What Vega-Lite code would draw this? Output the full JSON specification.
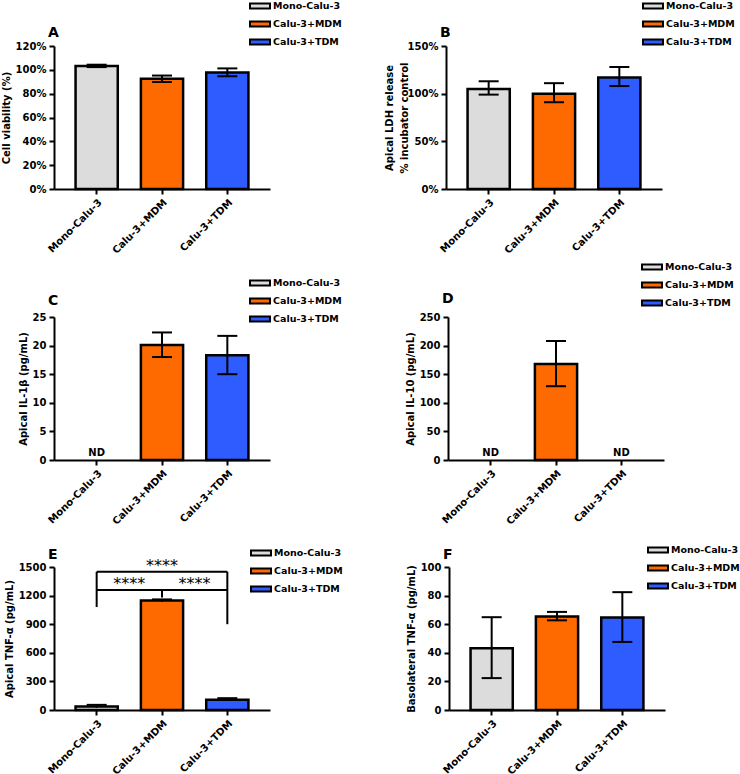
{
  "$schema": "https://vega.github.io/schema/vega-lite/v6.json",
  "padding": {"left": 1, "top": -5, "right": 0, "bottom": 0},
  "background": "white",
  "config": {
    "view": {"stroke": null},
    "font": "DejaVu Sans",
    "axis": {
      "domainColor": "black", "domainWidth": 2, "tickColor": "black", "tickWidth": 2, "tickSize": 5,
      "labelFont": "DejaVu Sans", "labelFontWeight": "bold", "labelFontSize": 10, "labelColor": "black",
      "titleFont": "DejaVu Sans", "titleFontWeight": "bold", "titleFontSize": 10, "titleColor": "black",
      "grid": false, "labelPadding": 3, "titlePadding": 4, "labelOverlap": false
    },
    "axisX": {"labelAngle": -45, "title": null},
    "legend": {
      "orient": "none", "title": null,
      "symbolType": "M-1,-0.25H1V0.25H-1Z", "symbolSize": 400,
      "symbolStrokeColor": "black", "symbolStrokeWidth": 2, "symbolOpacity": 1,
      "labelFont": "DejaVu Sans", "labelFontWeight": "bold", "labelFontSize": 9.5, "labelColor": "black",
      "labelOffset": 2, "rowPadding": -2
    },
    "title": {"anchor": "start", "frame": "group", "dx": -6, "fontSize": 14, "fontWeight": "bold", "font": "DejaVu Sans", "color": "black"},
    "tick": {"thickness": 2, "size": 20, "color": "black", "opacity": 1},
    "rule": {"strokeWidth": 2, "color": "black"}
  },
  "datasets": {
    "A": [
      {"g": "Mono-Calu-3", "m": 1.033, "lo": 1.023, "hi": 1.043},
      {"g": "Calu-3+MDM", "m": 0.925, "lo": 0.898, "hi": 0.952},
      {"g": "Calu-3+TDM", "m": 0.978, "lo": 0.946, "hi": 1.012}
    ],
    "B": [
      {"g": "Mono-Calu-3", "m": 1.05, "lo": 0.99, "hi": 1.13},
      {"g": "Calu-3+MDM", "m": 1.0, "lo": 0.91, "hi": 1.11},
      {"g": "Calu-3+TDM", "m": 1.17, "lo": 1.08, "hi": 1.28}
    ],
    "C": [
      {"g": "Calu-3+MDM", "m": 20.1, "lo": 18.0, "hi": 22.3},
      {"g": "Calu-3+TDM", "m": 18.3, "lo": 15.0, "hi": 21.7}
    ],
    "Cnd": [{"g": "Mono-Calu-3", "t": "ND"}],
    "D": [
      {"g": "Calu-3+MDM", "m": 168, "lo": 129, "hi": 208}
    ],
    "Dnd": [{"g": "Mono-Calu-3", "t": "ND"}, {"g": "Calu-3+TDM", "t": "ND"}],
    "E": [
      {"g": "Mono-Calu-3", "m": 38, "lo": 24, "hi": 54},
      {"g": "Calu-3+MDM", "m": 1148, "lo": 1136, "hi": 1160},
      {"g": "Calu-3+TDM", "m": 108, "lo": 94, "hi": 124}
    ],
    "Eh": [
      {"g": "Mono-Calu-3", "g2": "Calu-3+TDM", "y": 1450},
      {"g": "Mono-Calu-3", "g2": "Calu-3+TDM", "y": 1260}
    ],
    "Ev": [
      {"g": "Mono-Calu-3", "y": 1080, "y2": 1450},
      {"g": "Calu-3+TDM", "y": 900, "y2": 1450},
      {"g": "Calu-3+MDM", "y": 1180, "y2": 1260}
    ],
    "Es1": [
      {"g": "Mono-Calu-3", "y": 1270, "t": "****"},
      {"g": "Calu-3+MDM", "y": 1270, "t": "****"}
    ],
    "Es2": [
      {"g": "Calu-3+MDM", "y": 1460, "t": "****"}
    ],
    "F": [
      {"g": "Mono-Calu-3", "m": 43.2, "lo": 22.3, "hi": 64.9},
      {"g": "Calu-3+MDM", "m": 65.3, "lo": 62.7, "hi": 68.6},
      {"g": "Calu-3+TDM", "m": 64.6, "lo": 47.6, "hi": 82.4}
    ]
  },
  "spacing": 12,
  "resolve": {"scale": {"color": "independent", "x": "independent", "y": "independent"}, "legend": {"color": "independent"}},
  "vconcat": [
    {
      "spacing": 0,
      "resolve": {"scale": {"color": "independent", "x": "independent", "y": "independent"}, "legend": {"color": "independent"}},
      "vconcat": [
        {
          "spacing": 42,
          "resolve": {"scale": {"color": "independent", "x": "independent", "y": "independent"}, "legend": {"color": "independent"}},
          "hconcat": [
            {
              "width": 216, "height": 143,
              "title": {"text": "A", "offset": -45},
              "data": {"name": "A"},
              "layer": [
                {"mark": {"type": "bar", "stroke": "black", "strokeWidth": 2.5},
                 "encoding": {
                   "x": {"field": "g", "type": "nominal", "sort": null, "scale": {"domain": ["Mono-Calu-3", "Calu-3+MDM", "Calu-3+TDM"], "paddingInner": 0.354, "paddingOuter": 0.33}, "axis": {"title": null}},
                   "y": {"field": "m", "type": "quantitative", "scale": {"domain": [0, 1.2], "nice": false}, "axis": {"title": "Cell viability (%)", "values": [0, 0.2, 0.4, 0.6, 0.8, 1, 1.2], "tickCount": 20, "format": ".0%"}},
                   "color": {"field": "g", "type": "nominal", "scale": {"domain": ["Mono-Calu-3", "Calu-3+MDM", "Calu-3+TDM"], "range": ["#dcdcdc", "#ff6a00", "#2e5cff"]}, "legend": {"legendX": 195, "legendY": -51}}
                 }},
                {"mark": {"type": "rule"}, "encoding": {"x": {"field": "g", "type": "nominal"}, "y": {"field": "lo", "type": "quantitative", "axis": {"title": "Cell viability (%)", "values": [0, 0.2, 0.4, 0.6, 0.8, 1, 1.2], "tickCount": 20, "format": ".0%"}}, "y2": {"field": "hi"}}},
                {"mark": {"type": "tick"}, "encoding": {"x": {"field": "g", "type": "nominal"}, "y": {"field": "lo", "type": "quantitative", "axis": {"title": "Cell viability (%)", "values": [0, 0.2, 0.4, 0.6, 0.8, 1, 1.2], "tickCount": 20, "format": ".0%"}}}},
                {"mark": {"type": "tick"}, "encoding": {"x": {"field": "g", "type": "nominal"}, "y": {"field": "hi", "type": "quantitative", "axis": {"title": "Cell viability (%)", "values": [0, 0.2, 0.4, 0.6, 0.8, 1, 1.2], "tickCount": 20, "format": ".0%"}}}}
              ]
            },
            {
              "width": 216, "height": 143,
              "title": {"text": "B", "offset": -45},
              "data": {"name": "B"},
              "layer": [
                {"mark": {"type": "bar", "stroke": "black", "strokeWidth": 2.5},
                 "encoding": {
                   "x": {"field": "g", "type": "nominal", "sort": null, "scale": {"domain": ["Mono-Calu-3", "Calu-3+MDM", "Calu-3+TDM"], "paddingInner": 0.354, "paddingOuter": 0.33}, "axis": {"title": null}},
                   "y": {"field": "m", "type": "quantitative", "scale": {"domain": [0, 1.5], "nice": false}, "axis": {"title": ["Apical LDH release", "% incubator control"], "titleLineHeight": 15, "titlePadding": -2, "values": [0, 0.5, 1, 1.5], "tickCount": 20, "format": ".0%"}},
                   "color": {"field": "g", "type": "nominal", "scale": {"domain": ["Mono-Calu-3", "Calu-3+MDM", "Calu-3+TDM"], "range": ["#dcdcdc", "#ff6a00", "#2e5cff"]}, "legend": {"legendX": 196, "legendY": -51}}
                 }},
                {"mark": {"type": "rule"}, "encoding": {"x": {"field": "g", "type": "nominal"}, "y": {"field": "lo", "type": "quantitative", "axis": {"title": ["Apical LDH release", "% incubator control"], "titleLineHeight": 15, "titlePadding": -2, "values": [0, 0.5, 1, 1.5], "tickCount": 20, "format": ".0%"}}, "y2": {"field": "hi"}}},
                {"mark": {"type": "tick"}, "encoding": {"x": {"field": "g", "type": "nominal"}, "y": {"field": "lo", "type": "quantitative", "axis": {"title": ["Apical LDH release", "% incubator control"], "titleLineHeight": 15, "titlePadding": -2, "values": [0, 0.5, 1, 1.5], "tickCount": 20, "format": ".0%"}}}},
                {"mark": {"type": "tick"}, "encoding": {"x": {"field": "g", "type": "nominal"}, "y": {"field": "hi", "type": "quantitative", "axis": {"title": ["Apical LDH release", "% incubator control"], "titleLineHeight": 15, "titlePadding": -2, "values": [0, 0.5, 1, 1.5], "tickCount": 20, "format": ".0%"}}}}
              ]
            }
          ]
        },
        {
          "spacing": 63,
          "resolve": {"scale": {"color": "independent", "x": "independent", "y": "independent"}, "legend": {"color": "independent"}},
          "hconcat": [
            {
              "width": 216, "height": 143,
              "title": {"text": "C", "offset": -36},
              "layer": [
                {"data": {"name": "C"},
                 "mark": {"type": "bar", "stroke": "black", "strokeWidth": 2.5},
                 "encoding": {
                   "x": {"field": "g", "type": "nominal", "sort": null, "scale": {"domain": ["Mono-Calu-3", "Calu-3+MDM", "Calu-3+TDM"], "paddingInner": 0.354, "paddingOuter": 0.33}, "axis": {"title": null}},
                   "y": {"field": "m", "type": "quantitative", "scale": {"domain": [0, 25], "nice": false}, "axis": {"title": "Apical IL-1β (pg/mL)", "values": [0, 5, 10, 15, 20, 25], "tickCount": 20}},
                   "color": {"field": "g", "type": "nominal", "scale": {"domain": ["Mono-Calu-3", "Calu-3+MDM", "Calu-3+TDM"], "range": ["#dcdcdc", "#ff6a00", "#2e5cff"]}, "legend": {"legendX": 195, "legendY": -45}}
                 }},
                {"data": {"name": "C"}, "mark": {"type": "rule"}, "encoding": {"x": {"field": "g", "type": "nominal"}, "y": {"field": "lo", "type": "quantitative", "axis": {"title": "Apical IL-1β (pg/mL)", "values": [0, 5, 10, 15, 20, 25], "tickCount": 20}}, "y2": {"field": "hi"}}},
                {"data": {"name": "C"}, "mark": {"type": "tick"}, "encoding": {"x": {"field": "g", "type": "nominal"}, "y": {"field": "lo", "type": "quantitative", "axis": {"title": "Apical IL-1β (pg/mL)", "values": [0, 5, 10, 15, 20, 25], "tickCount": 20}}}},
                {"data": {"name": "C"}, "mark": {"type": "tick"}, "encoding": {"x": {"field": "g", "type": "nominal"}, "y": {"field": "hi", "type": "quantitative", "axis": {"title": "Apical IL-1β (pg/mL)", "values": [0, 5, 10, 15, 20, 25], "tickCount": 20}}}},
                {"data": {"name": "Cnd"}, "mark": {"type": "text", "fontWeight": "bold", "fontSize": 10, "baseline": "bottom", "dy": -2, "color": "black"},
                 "encoding": {"x": {"field": "g", "type": "nominal"}, "y": {"datum": 0, "type": "quantitative", "axis": {"title": "Apical IL-1β (pg/mL)", "values": [0, 5, 10, 15, 20, 25], "tickCount": 20}}, "text": {"field": "t"}}}
              ]
            },
            {
              "width": 216, "height": 143,
              "title": {"text": "D", "offset": -50},
              "layer": [
                {"data": {"name": "D"},
                 "mark": {"type": "bar", "stroke": "black", "strokeWidth": 2.5},
                 "encoding": {
                   "x": {"field": "g", "type": "nominal", "sort": null, "scale": {"domain": ["Mono-Calu-3", "Calu-3+MDM", "Calu-3+TDM"], "paddingInner": 0.354, "paddingOuter": 0.33}, "axis": {"title": null}},
                   "y": {"field": "m", "type": "quantitative", "scale": {"domain": [0, 250], "nice": false}, "axis": {"title": "Apical IL-10 (pg/mL)", "values": [0, 50, 100, 150, 200, 250], "tickCount": 20}},
                   "color": {"field": "g", "type": "nominal", "scale": {"domain": ["Mono-Calu-3", "Calu-3+MDM", "Calu-3+TDM"], "range": ["#dcdcdc", "#ff6a00", "#2e5cff"]}, "legend": {"legendX": 193, "legendY": -61}}
                 }},
                {"data": {"name": "D"}, "mark": {"type": "rule"}, "encoding": {"x": {"field": "g", "type": "nominal"}, "y": {"field": "lo", "type": "quantitative", "axis": {"title": "Apical IL-10 (pg/mL)", "values": [0, 50, 100, 150, 200, 250], "tickCount": 20}}, "y2": {"field": "hi"}}},
                {"data": {"name": "D"}, "mark": {"type": "tick"}, "encoding": {"x": {"field": "g", "type": "nominal"}, "y": {"field": "lo", "type": "quantitative", "axis": {"title": "Apical IL-10 (pg/mL)", "values": [0, 50, 100, 150, 200, 250], "tickCount": 20}}}},
                {"data": {"name": "D"}, "mark": {"type": "tick"}, "encoding": {"x": {"field": "g", "type": "nominal"}, "y": {"field": "hi", "type": "quantitative", "axis": {"title": "Apical IL-10 (pg/mL)", "values": [0, 50, 100, 150, 200, 250], "tickCount": 20}}}},
                {"data": {"name": "Dnd"}, "mark": {"type": "text", "fontWeight": "bold", "fontSize": 10, "baseline": "bottom", "dy": -2, "color": "black"},
                 "encoding": {"x": {"field": "g", "type": "nominal"}, "y": {"datum": 0, "type": "quantitative", "axis": {"title": "Apical IL-10 (pg/mL)", "values": [0, 50, 100, 150, 200, 250], "tickCount": 20}}, "text": {"field": "t"}}}
              ]
            }
          ]
        }
      ]
    },
    {
      "spacing": 63,
      "resolve": {"scale": {"color": "independent", "x": "independent", "y": "independent"}, "legend": {"color": "independent"}},
      "hconcat": [
        {
          "width": 216, "height": 143,
          "title": {"text": "E", "offset": -20},
          "layer": [
            {"data": {"name": "E"},
             "mark": {"type": "bar", "stroke": "black", "strokeWidth": 2.5},
             "encoding": {
               "x": {"field": "g", "type": "nominal", "sort": null, "scale": {"domain": ["Mono-Calu-3", "Calu-3+MDM", "Calu-3+TDM"], "paddingInner": 0.354, "paddingOuter": 0.33}, "axis": {"title": null}},
               "y": {"field": "m", "type": "quantitative", "scale": {"domain": [0, 1500], "nice": false}, "axis": {"title": "Apical TNF-α (pg/mL)", "values": [0, 300, 600, 900, 1200, 1500], "tickCount": 20, "format": "d"}},
               "color": {"field": "g", "type": "nominal", "scale": {"domain": ["Mono-Calu-3", "Calu-3+MDM", "Calu-3+TDM"], "range": ["#dcdcdc", "#ff6a00", "#2e5cff"]}, "legend": {"legendX": 196, "legendY": -25}}
             }},
            {"data": {"name": "E"}, "mark": {"type": "rule"}, "encoding": {"x": {"field": "g", "type": "nominal"}, "y": {"field": "lo", "type": "quantitative", "axis": {"title": "Apical TNF-α (pg/mL)", "values": [0, 300, 600, 900, 1200, 1500], "tickCount": 20, "format": "d"}}, "y2": {"field": "hi"}}},
            {"data": {"name": "E"}, "mark": {"type": "tick"}, "encoding": {"x": {"field": "g", "type": "nominal"}, "y": {"field": "hi", "type": "quantitative", "axis": {"title": "Apical TNF-α (pg/mL)", "values": [0, 300, 600, 900, 1200, 1500], "tickCount": 20, "format": "d"}}}},
            {"data": {"name": "Eh"}, "mark": {"type": "rule"}, "encoding": {"x": {"field": "g", "type": "nominal"}, "x2": {"field": "g2"}, "y": {"field": "y", "type": "quantitative", "axis": {"title": "Apical TNF-α (pg/mL)", "values": [0, 300, 600, 900, 1200, 1500], "tickCount": 20, "format": "d"}}}},
            {"data": {"name": "Ev"}, "mark": {"type": "rule"}, "encoding": {"x": {"field": "g", "type": "nominal"}, "y": {"field": "y", "type": "quantitative", "axis": {"title": "Apical TNF-α (pg/mL)", "values": [0, 300, 600, 900, 1200, 1500], "tickCount": 20, "format": "d"}}, "y2": {"field": "y2"}}},
            {"data": {"name": "Es1"}, "mark": {"type": "text", "fontSize": 16, "baseline": "alphabetic", "fill": "black"},
             "encoding": {"x": {"field": "g", "type": "nominal", "bandPosition": 1.27}, "y": {"field": "y", "type": "quantitative", "axis": {"title": "Apical TNF-α (pg/mL)", "values": [0, 300, 600, 900, 1200, 1500], "tickCount": 20, "format": "d"}}, "text": {"field": "t"}}},
            {"data": {"name": "Es2"}, "mark": {"type": "text", "fontSize": 16, "baseline": "alphabetic", "fill": "black"},
             "encoding": {"x": {"field": "g", "type": "nominal"}, "y": {"field": "y", "type": "quantitative", "axis": {"title": "Apical TNF-α (pg/mL)", "values": [0, 300, 600, 900, 1200, 1500], "tickCount": 20, "format": "d"}}, "text": {"field": "t"}}}
          ]
        },
        {
          "width": 216, "height": 143,
          "title": {"text": "F", "offset": -23},
          "data": {"name": "F"},
          "layer": [
            {"mark": {"type": "bar", "stroke": "black", "strokeWidth": 2.5},
             "encoding": {
               "x": {"field": "g", "type": "nominal", "sort": null, "scale": {"domain": ["Mono-Calu-3", "Calu-3+MDM", "Calu-3+TDM"], "paddingInner": 0.354, "paddingOuter": 0.33}, "axis": {"title": null}},
               "y": {"field": "m", "type": "quantitative", "scale": {"domain": [0, 100], "nice": false}, "axis": {"title": "Basolateral TNF-α (pg/mL)", "values": [0, 20, 40, 60, 80, 100], "tickCount": 20}},
               "color": {"field": "g", "type": "nominal", "scale": {"domain": ["Mono-Calu-3", "Calu-3+MDM", "Calu-3+TDM"], "range": ["#dcdcdc", "#ff6a00", "#2e5cff"]}, "legend": {"legendX": 198, "legendY": -28}}
             }},
            {"mark": {"type": "rule"}, "encoding": {"x": {"field": "g", "type": "nominal"}, "y": {"field": "lo", "type": "quantitative", "axis": {"title": "Basolateral TNF-α (pg/mL)", "values": [0, 20, 40, 60, 80, 100], "tickCount": 20}}, "y2": {"field": "hi"}}},
            {"mark": {"type": "tick"}, "encoding": {"x": {"field": "g", "type": "nominal"}, "y": {"field": "lo", "type": "quantitative", "axis": {"title": "Basolateral TNF-α (pg/mL)", "values": [0, 20, 40, 60, 80, 100], "tickCount": 20}}}},
            {"mark": {"type": "tick"}, "encoding": {"x": {"field": "g", "type": "nominal"}, "y": {"field": "hi", "type": "quantitative", "axis": {"title": "Basolateral TNF-α (pg/mL)", "values": [0, 20, 40, 60, 80, 100], "tickCount": 20}}}}
          ]
        }
      ]
    }
  ]
}
